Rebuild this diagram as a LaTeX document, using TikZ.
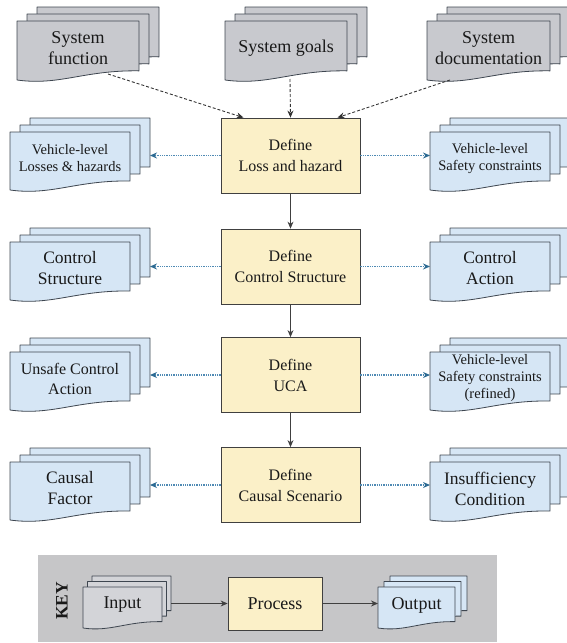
\documentclass[tikz,border=0pt]{standalone}
\usepackage{fontspec}
\setmainfont{Liberation Serif}
\usetikzlibrary{arrows.meta}

\definecolor{docgray}{HTML}{C8C9CE}
\definecolor{docblue}{HTML}{D6E6F5}
\definecolor{procyellow}{HTML}{FBF0C8}
\definecolor{keygray}{HTML}{C6C6C8}
\definecolor{edgecol}{HTML}{3E4650}
\definecolor{flowblue}{HTML}{4F8AB4}
\definecolor{tipblue}{HTML}{2C6A92}

\tikzset{
  docsheet/.style={draw=edgecol, line width=0.8pt, line join=round},
  doctext/.style={align=center, inner sep=0pt, text=black!90},
  graydoc/.style={fill=docgray, font=\fontsize{18}{21}\selectfont},
  bluedoc/.style={fill=docblue, font=\fontsize{17.5}{21}\selectfont},
  bluemid/.style={fill=docblue, font=\fontsize{16}{20}\selectfont},
  bluesmall/.style={fill=docblue, font=\fontsize{14.5}{17}\selectfont},
  keyin/.style={fill=docgray!80!white, font=\fontsize{18}{21}\selectfont},
  keyout/.style={fill=docblue, font=\fontsize{18}{21}\selectfont},
  procbox/.style={draw=black!75, line width=0.8pt, fill=procyellow,
    minimum width=139pt, minimum height=75pt, align=center, inner sep=0pt,
    font=\fontsize{16}{21}\selectfont, text=black!90},
  keyproc/.style={procbox, minimum width=94pt, minimum height=53pt,
    font=\fontsize{18}{21}\selectfont},
  keyback/.style={fill=keygray, draw=none, minimum width=459pt,
    minimum height=87pt, inner sep=0pt},
  flow/.style={draw=black!75, line width=0.9pt, -{Stealth[length=7pt,width=6pt]}},
  feed/.style={draw=black!80, line width=0.9pt, dash pattern=on 3pt off 2pt,
    -{Stealth[length=7pt,width=6pt]}},
  result/.style={draw=flowblue, line width=1.1pt, dash pattern=on 1.3pt off 1pt,
    -{Stealth[length=7pt,width=6pt,color=tipblue]}},
}

% stack of three document sheets with a wavy lower edge
% #1 name, #2 left, #3 top, #4 width, #5 height, #6 dx, #7 dy, #8 style, #9 text
\newcommand{\docstack}[9]{%
  \foreach \k in {2,1,0}{%
    \path[docsheet,#8,shift={({#6*\k},{#7*\k})}]
      (#2,{#3+#5}) -- (#2,#3) -- ({#2+#4},#3) -- ({#2+#4},{#3+0.845*#5})
      .. controls ({#2+0.55*#4},{#3+0.83*#5}) and ({#2+0.35*#4},{#3+1.1*#5})
      .. (#2,{#3+#5}) -- cycle;
  }%
  \node[doctext,#8,fill=none] (#1) at ({#2+#4/2},{#3+(#5-5)/2}) {#9};
  \coordinate (#1-back) at ({#2+#4+2*#6},{#3+(#5-5)/2+2*#7});
  \coordinate (#1-front) at (#2,{#3+(#5-5)/2});
}

\begin{document}
\begin{tikzpicture}[x=1pt,y=-1pt]
\useasboundingbox (0,0) rectangle (566,643);

% inputs
\docstack{sfun}{17}{21}{122}{59}{10}{-7}{graydoc}{System\\function}
\docstack{sgoal}{225}{21}{122}{59}{10}{-7}{graydoc}{System goals}
\docstack{sdoc}{427}{21}{123}{59}{10}{-7}{graydoc}{System\\documentation}
\coordinate (sfun-out) at (108,74);
\coordinate (sgoal-out) at (290,79);
\coordinate (sdoc-out) at (450,80);

% process steps
\node[procbox] (d1) at (290.5,155.5) {Define\\Loss and hazard};
\node[procbox] (d2) at (290.5,266.5) {Define\\Control Structure};
\node[procbox] (d3) at (290.5,375) {Define\\UCA};
\node[procbox] (d4) at (290.5,485) {Define\\Causal Scenario};

% outputs, left column
\docstack{lhaz}{10}{132}{120}{58}{10}{-7}{bluesmall}{Vehicle-level\\Losses \& hazards}
\docstack{cstr}{10}{242}{120}{58}{10}{-7}{bluedoc}{Control\\Structure}
\docstack{uca}{10}{352}{120}{58}{10}{-7}{bluemid}{Unsafe Control\\Action}
\docstack{cfac}{10}{462}{120}{58}{10}{-7}{bluedoc}{Causal\\Factor}

% outputs, right column
\docstack{vsc}{430}{132}{120}{58}{10}{-7}{bluesmall}{Vehicle-level\\Safety constraints}
\docstack{cact}{430}{242}{120}{58}{10}{-7}{bluedoc}{Control\\Action}
\docstack{vscr}{430}{352}{120}{58}{10}{-7}{bluesmall}{Vehicle-level\\Safety constraints\\(refined)}
\docstack{insc}{430}{462}{120}{58}{10}{-7}{bluedoc}{Insufficiency\\Condition}

% input feeds
\draw[feed] (sfun-out) -- ([xshift=-47pt]d1.north);
\draw[feed] (sgoal-out) -- (d1.north);
\draw[feed] (sdoc-out) -- ([xshift=47pt]d1.north);

% main flow
\draw[flow] (d1) -- (d2);
\draw[flow] (d2) -- (d3);
\draw[flow] (d3) -- (d4);

% results
\draw[result] (d1.west) -- (d1.west -| lhaz-back);
\draw[result] (d2.west) -- (d2.west -| cstr-back);
\draw[result] (d3.west) -- (d3.west -| uca-back);
\draw[result] (d4.west) -- (d4.west -| cfac-back);
\draw[result] (d1.east) -- (d1.east -| vsc-front);
\draw[result] (d2.east) -- (d2.east -| cact-front);
\draw[result] (d3.east) -- (d3.east -| vscr-front);
\draw[result] (d4.east) -- (d4.east -| insc-front);

% key
\node[keyback] (keybg) at (267.5,598.5) {};
\node[rotate=90, font=\bfseries\fontsize{17.5}{20}\selectfont, text=black!90] (keylbl) at (62,601) {KEY};
\docstack{kin}{83}{587}{79}{41}{4.5}{-5.5}{keyin}{Input}
\node[keyproc] (kproc) at (275,603.5) {Process};
\docstack{kout}{378}{587}{77}{41}{6}{-5.5}{keyout}{Output}
\draw[flow] (kproc.west -| kin-back) -- (kproc.west);
\draw[flow] (kproc.east) -- (kproc.east -| kout-front);
\end{tikzpicture}
\end{document}
